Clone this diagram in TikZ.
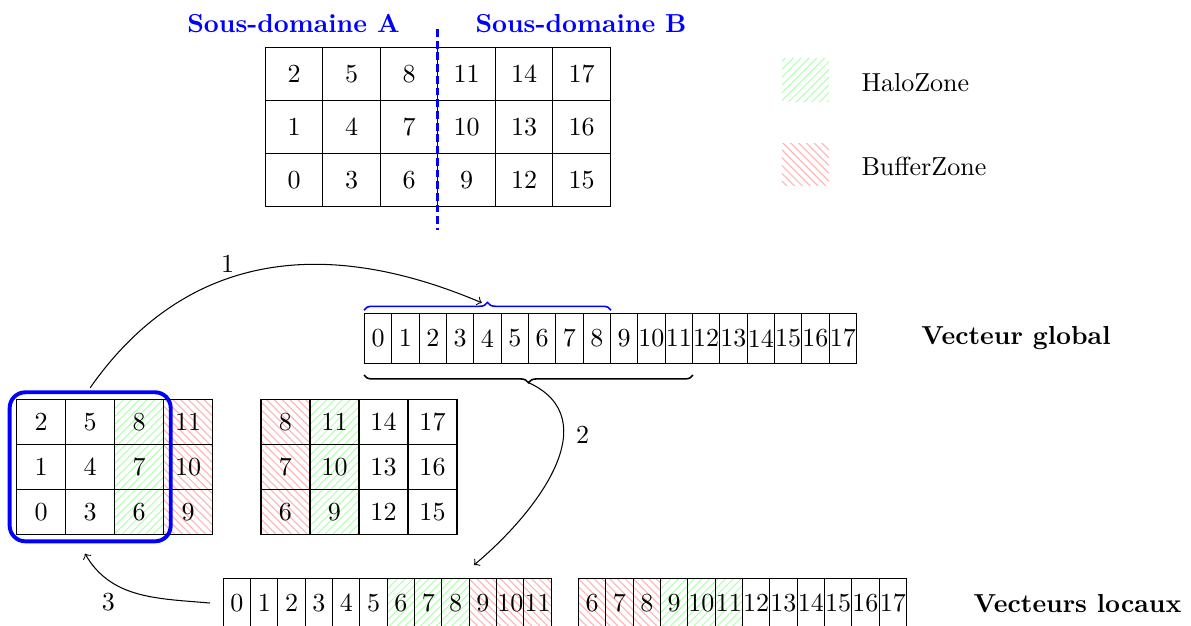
\documentclass[tikz,border=0pt]{standalone}
\usetikzlibrary{patterns,decorations.pathreplacing,fit}
\begin{document}
\begin{tikzpicture}[x=0.0135cm,y=-0.0135cm,
  cellT/.style={draw, minimum width=0.776cm, minimum height=0.713cm, inner sep=0pt},
  cellL/.style={draw, minimum width=0.6615cm, minimum height=0.6075cm, inner sep=0pt},
  cellV/.style={draw, minimum width=0.369cm, minimum height=0.675cm, inner sep=0pt},
  halo/.style={pattern=north east lines, pattern color=green!30},
  buffer/.style={pattern=north west lines, pattern color=red!30},
  legsq/.style={minimum width=0.635cm, minimum height=0.58cm, inner sep=0pt},
  lbl/.style={font=\bfseries},
  sd/.style={font=\bfseries, text=blue},
  conn/.style={->},
  brc/.style={decorate, line width=0.6pt}]
\useasboundingbox (0,0) rectangle (1191,625);

% titles
\node[sd] (sdA) at (293.5,24) {Sous-domaine A};
\node[sd] (sdB) at (581,24) {Sous-domaine B};

% top grid
\foreach \i in {0,...,5}{
  \foreach \r in {0,1,2}{
    \pgfmathtruncatemacro\v{3*\i+\r}
    \node[cellT] (t\v) at ({265.3+57.5*(\i+0.5)},{179.7-52.8*\r}) {\v};
  }
}
\coordinate (d1) at (437.5,29);
\coordinate (d2) at (437.5,230);
\draw[blue, line width=1.2pt, dash pattern=on 3pt off 1.5pt] (d1) -- (d2);

% legend
\node[legsq, halo] (legH) at (805.3,79.7) {};
\node[legsq, buffer] (legB) at (805.3,164.5) {};
\node[anchor=west, inner sep=0pt] (txtH) at (861,82.7) {HaloZone};
\node[anchor=west, inner sep=0pt] (txtB) at (861,166.7) {BufferZone};

% global vector
\foreach \k in {0,...,17}{
  \node[cellV] (g\k) at ({364.5+27.33*(\k+0.5)},338.3) {\k};
}
\node[lbl] (vg) at (1016,338) {Vecteur global};
\draw[brc, blue, decoration={brace, amplitude=3pt}] ([yshift=1pt]g0.north west) -- ([yshift=1pt]g8.north east);
\draw[brc, decoration={brace, amplitude=3pt, mirror}] ([yshift=-4.3pt]g0.south west) -- ([yshift=-4.3pt]g11.south east);
\path ([xshift=-2.2pt,yshift=3.85pt]g4.north) coordinate (bt1);
\path ([yshift=-7.3pt]g5.south east) coordinate (bt2);

% sub-domain A grid
\foreach \i/\st in {0/cellL,1/cellL,2/halo,3/buffer}{
  \foreach \r in {0,1,2}{
    \pgfmathtruncatemacro\v{3*\i+\r}
    \node[cellL,\st] (a\v) at ({16.7+49*(\i+0.5)},{511.8-45*\r}) {\v};
  }
}
% sub-domain B grid
\foreach \j/\st in {0/buffer,1/halo,2/cellL,3/cellL}{
  \foreach \r in {0,1,2}{
    \pgfmathtruncatemacro\v{3*(\j+2)+\r}
    \node[cellL,\st] (b\v) at ({261+49*(\j+0.5)},{511.8-45*\r}) {\v};
  }
}
\node[draw=blue, line width=1.5pt, rounded corners=6pt, fit=(a0)(a8), inner sep=2.5pt] (boxA) {};

% local vectors
\foreach \k in {0,...,5}{\node[cellV] (la\k) at ({223.3+27.33*(\k+0.5)},603) {\k};}
\foreach \k in {6,7,8}{\node[cellV,halo] (la\k) at ({223.3+27.33*(\k+0.5)},603) {\k};}
\foreach \k in {9,10,11}{\node[cellV,buffer] (la\k) at ({223.3+27.33*(\k+0.5)},603) {\k};}
\foreach \k in {6,7,8}{\node[cellV,buffer] (lb\k) at ({578.5+27.33*(\k-5.5)},603) {\k};}
\foreach \k in {9,10,11}{\node[cellV,halo] (lb\k) at ({578.5+27.33*(\k-5.5)},603) {\k};}
\foreach \k in {12,...,17}{\node[cellV] (lb\k) at ({578.5+27.33*(\k-5.5)},603) {\k};}
\node[lbl] (vl) at (1077.5,604) {Vecteurs locaux};

% connectors
\coordinate (e2) at (474,565);
\draw[conn] ([yshift=1pt]boxA.north) to[out=55,in=157,out looseness=0.9,in looseness=1.28] (bt1);
\draw[conn] (bt2) to[out=-25,in=40,looseness=1.15] (e2);
\draw[conn] ([xshift=-5pt]la0.west) to[out=175,in=-60] ([xshift=-2pt,yshift=-4pt]boxA.south);
\node (l1) at (227.7,264) {1};
\node (l2) at (582.7,435) {2};
\node (l3) at (108.3,601.7) {3};
\end{tikzpicture}
\end{document}
